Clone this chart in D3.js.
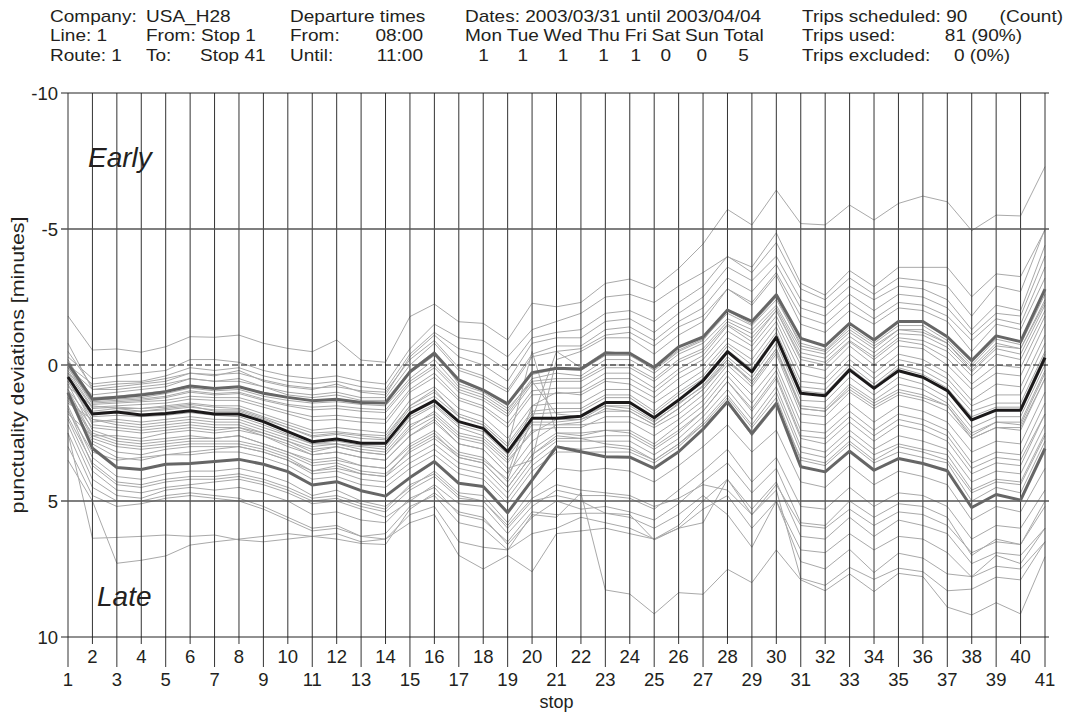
<!DOCTYPE html>
<html>
<head>
<meta charset="utf-8">
<script src="https://cdn.jsdelivr.net/npm/d3@7"></script>
<style>
  html, body { margin: 0; padding: 0; background: #fff; }
  svg { display: block; font-family: "Liberation Sans", Arial, Helvetica, sans-serif; }
</style>
</head>
<body>
<svg id="chart" width="1070" height="714"></svg>
<script>
// ---------- data ----------
const stops = d3.range(1, 42);
const yTicks = [-10, -5, 0, 5, 10];

const median = [0.44,1.8,1.73,1.84,1.78,1.68,1.8,1.8,2.08,2.45,2.82,2.72,2.88,2.88,1.78,1.31,2.08,2.33,3.19,1.96,1.96,1.88,1.38,1.38,1.94,1.29,0.58,-0.49,0.25,-1.02,1.04,1.13,0.18,0.86,0.21,0.45,0.94,2.02,1.66,1.66,-0.27];
const upperQ = [-0.05,1.26,1.19,1.10,0.98,0.77,0.86,0.8,1.04,1.19,1.31,1.26,1.38,1.4,0.25,-0.43,0.55,0.92,1.43,0.28,0.12,0.15,-0.43,-0.43,0.09,-0.67,-1.03,-2.02,-1.6,-2.58,-0.98,-0.7,-1.53,-0.92,-1.6,-1.6,-1.04,-0.16,-1.07,-0.86,-2.79];
const lowerQ = [1.02,3.06,3.77,3.84,3.65,3.62,3.55,3.47,3.65,3.92,4.41,4.29,4.62,4.82,4.14,3.55,4.35,4.47,5.43,4.23,3.0,3.19,3.37,3.39,3.8,3.19,2.36,1.35,2.52,1.41,3.74,3.93,3.17,3.87,3.44,3.62,3.89,5.24,4.76,4.97,3.07];

const trip01 = [-1.8,-0.55,-0.59,-0.47,-0.67,-1.04,-1.02,-1.1,-0.8,-0.61,-0.49,-0.92,-0.18,-0.1,-1.78,-2.24,-1.59,-1.53,-0.92,-2.27,-2.14,-2.3,-3.0,-3.16,-2.82,-3.55,-4.45,-5.72,-5.15,-6.43,-5.2,-5.15,-5.88,-5.33,-5.94,-6.21,-6.0,-4.94,-5.51,-5.48,-7.29];
const trip02 = [-0.3,0.5,0.4,0.3,0.2,-0.2,-0.2,-0.1,0.2,0.4,0.5,0.4,0.6,0.7,-0.6,-1.5,-1.0,-0.9,-0.3,-1.3,-1.6,-1.9,-2.5,-2.6,-2.3,-2.9,-3.4,-3.98,-3.6,-4.86,-3.0,-2.57,-3.47,-2.88,-3.59,-3.59,-3.59,-2.51,-3.35,-3.25,-4.96];
const trip03 = [0.1,0.9,0.8,0.7,0.6,0.3,0.4,0.2,0.6,0.8,0.9,0.7,1.0,1.1,-0.3,-1.1,-0.3,0.0,0.6,-0.8,-1.0,-1.0,-1.6,-1.7,-1.2,-1.9,-2.5,-3.6,-3.1,-4.0,-2.4,-2.1,-2.9,-2.4,-2.9,-2.8,-2.4,-1.3,-2.2,-2.0,-4.4];
const trip04 = [0.3,1.1,1.0,0.9,0.8,0.5,0.6,0.6,0.8,1.0,1.1,1.0,1.2,1.2,0.0,-0.8,0.2,0.5,1.0,-0.3,-0.5,-0.6,-1.1,-1.2,-0.7,-1.4,-1.8,-2.8,-2.3,-3.4,-1.8,-1.5,-2.3,-1.7,-2.3,-2.2,-1.8,-0.9,-1.7,-1.5,-3.6];
const trip05 = [-0.2,1.3,1.25,1.2,1.05,0.85,0.95,0.9,1.15,1.3,1.4,1.35,1.45,1.5,0.5,-0.2,0.8,1.1,1.7,0.5,0.3,0.4,-0.2,-0.2,0.3,-0.4,-0.8,-1.7,-1.3,-2.2,-0.6,-0.4,-1.2,-0.6,-1.3,-1.3,-0.8,0.1,-0.8,-0.6,-2.4];
const trip06 = [0.0,1.4,1.35,1.3,1.2,1.0,1.1,1.05,1.3,1.5,1.65,1.6,1.7,1.75,0.7,0.1,1.0,1.3,1.9,0.7,0.6,0.6,0.1,0.1,0.6,-0.1,-0.5,-1.5,-1.0,-2.0,-0.3,-0.1,-0.9,-0.3,-1.0,-0.9,-0.5,0.4,-0.4,-0.2,-2.0];
const trip07 = [0.2,1.55,1.5,1.45,1.4,1.25,1.3,1.3,1.55,1.8,2.05,2.0,2.1,2.15,1.0,0.45,1.3,1.6,2.3,1.1,1.05,1.0,0.5,0.5,1.0,0.3,-0.2,-1.25,-0.7,-1.8,0.0,0.2,-0.7,0.0,-0.7,-0.6,0.0,0.9,0.3,0.4,-1.5];
const trip08 = [0.5,1.7,1.6,1.6,1.5,1.4,1.5,1.5,1.8,2.1,2.4,2.3,2.4,2.5,1.3,0.8,1.6,1.9,2.7,1.5,1.4,1.4,0.9,0.9,1.4,0.8,0.2,-0.8,-0.2,-1.4,0.6,0.7,-0.2,0.5,-0.2,0.0,0.5,1.5,1.1,1.1,-0.8];
const trip09 = [0.6,1.9,1.85,1.9,1.85,1.75,1.85,1.9,2.2,2.55,2.9,2.8,2.95,3.0,1.9,1.45,2.2,2.45,3.3,2.1,2.1,2.0,1.5,1.5,2.05,1.45,0.75,-0.3,0.45,-0.8,1.3,1.35,0.45,1.1,0.45,0.7,1.2,2.3,1.9,1.9,0.0];
const trip10 = [0.9,2.1,2.0,2.1,2.0,1.9,2.0,2.0,2.3,2.6,2.9,2.9,3.1,3.2,2.2,1.8,2.6,2.8,3.6,2.4,2.3,2.3,1.9,1.9,2.3,1.8,1.1,0.0,0.8,-0.4,1.8,1.9,1.0,1.6,1.1,1.3,1.7,2.7,2.3,2.4,0.5];
const trip11 = [0.7,2.4,2.7,2.8,2.7,2.6,2.7,2.6,2.9,3.2,3.6,3.5,3.7,3.8,2.9,2.4,3.2,3.4,4.3,3.1,2.5,2.5,2.4,2.4,2.9,2.2,1.5,0.4,1.4,0.2,2.4,2.5,1.7,2.4,1.8,2.0,2.4,3.6,3.2,3.3,1.4];
const trip12 = [1.0,2.7,3.0,3.1,3.0,2.9,2.9,2.9,3.1,3.4,3.9,3.8,4.0,4.1,3.4,2.9,3.6,3.8,4.7,3.5,2.8,2.8,2.8,2.8,3.3,2.7,1.9,0.9,2.0,0.8,3.0,3.2,2.4,3.1,2.6,2.8,3.1,4.3,3.9,4.0,2.2];
const trip13 = [1.2,2.9,3.4,3.5,3.3,3.3,3.2,3.2,3.4,3.7,4.2,4.1,4.4,4.5,3.8,3.3,4.0,4.2,5.1,3.9,3.2,3.2,3.2,3.2,3.6,3.0,2.2,1.2,2.3,1.2,3.5,3.7,2.9,3.6,3.2,3.4,3.6,5.0,4.5,4.7,2.8];
const trip14 = [1.5,3.4,4.1,4.2,4.0,3.9,3.9,3.8,4.0,4.3,4.8,4.6,5.0,5.2,4.5,3.9,4.7,4.8,5.8,4.6,3.8,3.9,3.8,3.9,4.3,3.7,3.0,2.2,3.2,2.4,4.3,4.5,3.7,4.4,3.9,4.1,4.4,5.7,5.2,5.4,3.8];
const trip15 = [2.0,3.9,4.6,4.7,4.5,4.4,4.3,4.2,4.4,4.7,5.1,5.0,5.3,5.6,5.0,4.4,5.1,5.2,6.2,5.2,4.6,4.8,4.8,4.9,5.3,4.6,3.9,3.1,4.3,3.4,5.2,5.3,4.5,5.2,4.7,4.8,5.2,6.4,5.9,6.0,4.6];
const trip16 = [2.5,6.37,6.34,6.3,6.25,6.3,6.25,6.43,6.5,6.4,6.3,6.4,6.56,6.6,5.3,4.7,5.4,5.6,6.6,5.6,5.0,5.3,5.2,5.4,5.7,5.1,4.3,3.6,4.7,3.8,5.8,5.9,5.0,5.6,5.1,5.2,5.6,7.0,6.4,6.6,5.2];
const trip17 = [3.5,5.0,7.29,7.18,7.02,6.62,6.5,6.4,6.3,6.2,6.3,6.2,6.5,6.4,5.5,5.2,6.5,6.7,6.8,6.2,6.0,5.6,5.8,6.0,6.4,5.9,5.0,4.2,5.3,4.3,6.3,6.4,5.6,6.3,5.7,5.9,6.2,7.3,6.9,7.0,6.0];
const trip18 = [2.5,4.5,5.0,5.0,4.8,4.7,4.8,4.9,5.2,5.6,6.0,5.9,6.3,6.2,5.2,4.8,5.8,6.0,6.8,5.5,5.6,4.7,8.27,8.42,9.15,8.37,8.43,7.51,8.0,6.8,7.9,8.3,7.68,8.33,7.66,7.78,8.9,9.19,8.74,9.15,7.05];
const trip19 = [1.6,3.7,4.4,4.5,4.3,4.2,4.2,4.1,4.3,4.6,5.0,4.9,5.2,5.4,4.6,4.1,4.9,5.0,6.0,5.0,4.8,5.0,5.45,5.6,6.0,5.5,4.8,5.5,6.7,5.0,7.23,7.5,6.78,7.63,6.92,7.1,7.68,7.78,7.0,7.3,6.0];
const trip20 = [1.9,3.6,4.3,4.4,4.2,4.1,4.1,4.0,4.2,4.5,4.9,4.8,5.1,5.3,4.4,4.0,4.8,5.0,5.9,4.9,4.4,4.6,4.7,4.8,5.2,4.9,4.4,4.6,5.5,4.6,7.84,8.1,7.44,7.88,7.47,7.6,8.3,8.24,7.8,7.9,6.5];
const trip21 = [0.8,1.5,1.6,1.7,1.6,1.5,1.7,1.7,2.0,2.3,2.6,2.5,2.6,2.7,1.5,0.9,1.9,2.2,3.0,-0.5,2.5,2.6,2.4,2.5,3.0,2.4,1.7,0.6,1.6,0.4,2.6,2.7,1.9,2.6,2.0,2.2,2.6,3.8,3.4,3.5,1.8];
const trip22 = [0.4,2.2,2.3,2.4,2.3,2.2,2.3,2.3,2.5,2.8,3.2,3.0,3.2,3.3,2.4,1.9,2.7,2.9,3.8,3.5,-0.2,-0.5,-1.0,-1.0,-0.4,-1.1,-1.6,-2.8,-2.2,-3.3,-1.5,-1.2,-2.0,-1.5,-2.1,-2.0,-1.6,-0.5,-1.5,-1.3,-3.2];
const trip23 = [1.8,2.6,2.6,2.7,2.5,2.4,2.5,2.4,2.6,2.9,3.3,3.2,3.4,3.5,2.6,2.0,2.9,3.1,4.0,1.5,1.0,1.1,0.6,0.7,1.2,0.5,0.0,-1.0,-0.5,-1.6,0.3,0.5,-0.4,0.3,-0.4,-0.2,0.3,1.3,0.7,0.8,-1.1];
const trip24 = [-0.8,0.9,0.9,0.8,0.7,0.5,0.6,0.5,0.8,1.1,1.2,1.1,1.3,1.3,0.2,-0.5,0.7,1.0,1.6,0.6,1.8,1.9,1.5,1.6,2.1,1.4,0.8,-0.2,0.7,-0.5,1.6,1.7,0.9,1.5,1.0,1.2,1.5,2.7,2.3,2.3,0.5];
const trip25 = [1.3,2.5,2.8,2.9,2.8,2.7,2.7,2.6,2.9,3.2,3.5,3.4,3.7,3.8,3.0,2.5,3.4,3.6,4.5,3.3,2.6,2.7,2.9,3.0,3.5,2.9,2.2,1.4,2.6,1.5,3.4,3.6,2.8,3.5,3.0,3.2,3.5,4.7,4.3,4.4,2.6];
const trip26 = [2.2,4.2,4.8,4.9,4.6,4.5,4.6,4.5,4.7,5.0,5.5,5.4,5.7,5.8,4.9,4.5,5.5,5.7,6.5,5.4,5.5,5.45,5.45,5.5,6.43,6.0,5.8,4.2,5.5,4.4,5.9,6.0,5.3,5.9,5.4,5.5,5.9,6.9,6.5,6.6,5.0];
const trip27 = [3.0,4.8,5.2,5.1,4.9,4.8,4.9,5.0,5.3,5.7,6.1,6.0,6.3,6.4,5.8,5.5,7.0,7.5,7.0,7.6,6.2,6.1,6.0,6.2,6.4,6.0,5.3,4.8,6.0,5.0,6.8,6.9,6.2,6.8,6.3,6.4,6.9,7.8,7.4,7.5,6.5];
const trip28 = [0.0,0.7,0.6,0.6,0.4,0.1,0.2,0.1,0.4,0.6,0.7,0.6,0.8,0.9,-0.4,-1.2,-0.6,-0.4,0.2,-1.0,-1.2,-1.3,-1.9,-2.0,-1.6,-2.3,-2.9,-4.0,-3.4,-4.5,-2.8,-2.4,-3.2,-2.6,-3.2,-3.1,-2.9,-1.8,-2.9,-2.7,-5.0];
const trip29 = [0.3,1.6,1.55,1.6,1.55,1.45,1.55,1.6,1.9,2.2,2.5,2.45,2.55,2.6,1.5,1.0,1.8,2.1,2.9,1.7,1.6,1.6,1.1,1.1,1.7,1.0,0.4,-0.7,0.0,-1.2,0.8,0.9,0.0,0.7,0.0,0.2,0.7,1.7,1.4,1.4,-0.5];
const trip30 = [0.1,1.45,1.4,1.35,1.3,1.15,1.2,1.2,1.45,1.7,1.9,1.85,1.95,2.0,0.9,0.3,1.2,1.5,2.15,0.95,0.85,0.85,0.3,0.3,0.85,0.15,-0.35,-1.45,-0.85,-2.0,-0.2,0.0,-0.85,-0.2,-0.9,-0.75,-0.25,0.7,0.0,0.1,-1.8];
const trip31 = [1.1,2.3,2.4,2.5,2.4,2.3,2.4,2.3,2.6,3.0,3.3,3.2,3.4,3.5,2.6,2.1,2.9,3.1,4.0,2.8,2.2,2.2,2.1,2.1,2.6,2.0,1.3,0.2,1.1,0.0,2.1,2.2,1.4,2.1,1.5,1.7,2.1,3.2,2.8,2.9,1.0];
const trip32 = [0.1,1.35,1.3,1.25,1.15,0.95,1.05,1.0,1.25,1.45,1.55,1.5,1.6,1.65,0.6,0.0,0.9,1.2,1.8,0.6,0.5,0.5,0.0,0.0,0.5,-0.2,-0.6,-1.6,-1.15,-2.1,-0.45,-0.25,-1.05,-0.45,-1.15,-1.1,-0.65,0.25,-0.6,-0.4,-2.2];
const trip33 = [0.4,1.75,1.7,1.7,1.65,1.55,1.65,1.65,1.95,2.3,2.65,2.55,2.7,2.75,1.6,1.15,1.9,2.2,3.0,1.8,1.75,1.7,1.2,1.2,1.8,1.1,0.5,-0.55,0.15,-1.1,0.95,1.05,0.1,0.8,0.1,0.35,0.85,1.9,1.55,1.55,-0.4];
const trip34 = [1.4,2.0,2.2,2.3,2.2,2.1,2.2,2.2,2.5,2.8,3.1,3.0,3.2,3.3,2.3,1.7,2.5,2.7,3.5,2.5,2.0,2.0,1.7,1.7,2.2,1.6,0.9,-0.1,0.6,-0.6,1.6,1.7,0.8,1.4,0.9,1.1,1.5,2.6,2.1,2.2,0.3];
const trip35 = [-0.5,0.8,0.7,0.65,0.5,0.3,0.35,0.3,0.55,0.75,0.85,0.8,0.95,1.0,-0.2,-0.9,0.1,0.4,0.9,-0.4,-0.7,-0.7,-1.3,-1.4,-0.9,-1.6,-2.1,-3.2,-2.7,-3.7,-2.1,-1.8,-2.6,-2.0,-2.6,-2.5,-2.1,-1.1,-1.9,-1.8,-4.0];
const trip36 = [0.9,2.6,2.9,3.0,2.9,2.8,2.8,2.8,3.0,3.3,3.7,3.6,3.9,4.0,3.2,2.7,3.4,3.6,4.5,3.3,2.7,2.7,2.6,2.6,3.1,2.5,1.7,0.6,1.7,0.5,2.7,2.9,2.1,2.8,2.2,2.4,2.8,4.0,3.6,3.7,1.8];
const trip37 = [0.6,2.0,2.1,2.2,2.1,2.0,2.1,2.1,2.4,2.7,3.0,2.9,3.0,3.1,2.0,1.5,2.3,2.6,3.4,2.2,2.2,2.1,1.6,1.7,2.2,1.6,0.9,-0.2,0.6,-0.6,1.5,1.6,0.7,1.3,0.7,0.9,1.4,2.5,2.1,2.1,0.2];
const trip38 = [-0.1,1.2,1.15,1.05,0.95,0.75,0.85,0.8,1.0,1.2,1.3,1.25,1.35,1.4,0.3,-0.35,0.6,0.95,1.5,0.35,0.15,0.2,-0.35,-0.35,0.15,-0.55,-0.95,-1.9,-1.45,-2.4,-0.8,-0.55,-1.4,-0.8,-1.45,-1.45,-0.9,0.0,-0.95,-0.75,-2.6];
const trip39 = [1.7,3.2,3.5,3.4,3.3,3.2,3.1,3.0,3.2,3.5,3.9,3.7,4.0,4.1,3.1,2.6,3.3,3.5,4.2,2.0,-0.5,0.1,-0.5,-0.4,0.2,-0.5,-0.9,-2.0,-1.5,-2.5,-0.7,-0.5,-1.3,-0.7,-1.3,-1.2,-0.8,0.2,-0.7,-0.6,-2.3];
const trip40 = [1.2,2.8,3.2,3.3,3.1,3.0,3.0,3.0,3.2,3.5,4.0,3.9,4.2,4.3,3.6,3.1,3.8,4.0,4.9,3.7,3.0,3.1,3.0,3.1,3.5,2.9,2.1,1.1,2.2,1.0,3.2,3.4,2.6,3.3,2.9,3.1,3.3,4.6,4.2,4.3,2.5];

const trips = [trip01,trip02,trip03,trip04,trip05,trip06,trip07,trip08,trip09,trip10,
  trip11,trip12,trip13,trip14,trip15,trip16,trip17,trip18,trip19,trip20,
  trip21,trip22,trip23,trip24,trip25,trip26,trip27,trip28,trip29,trip30,
  trip31,trip32,trip33,trip34,trip35,trip36,trip37,trip38,trip39,trip40];

const dayNames = ["Mon","Tue","Wed","Thu","Fri","Sat","Sun","Total"];
const dayCounts = ["1","1","1","1","1","0","0","5"];

// ---------- drawing ----------
const svg = d3.select("#chart");
const x = d3.scaleLinear().domain([1, 41]).range([68, 1045]);
const y = d3.scaleLinear().domain([-10, 10]).range([93, 637]);
const FS = 17, SX = 1.12;

function htext(tx, ty, str, anchor) {
  return svg.append("text")
    .attr("transform", `translate(${tx},${ty}) scale(${SX},1)`)
    .attr("font-size", FS).attr("fill", "#231f20")
    .attr("text-anchor", anchor || "start")
    .text(str);
}

// header
const r1 = 22, r2 = 41, r3 = 61;
htext(50, r1, "Company:"); htext(146, r1, "USA_H28");
htext(50, r2, "Line:"); htext(107, r2, "1", "end");
htext(146, r2, "From: Stop  1");
htext(50, r3, "Route: 1"); htext(146, r3, "To:"); htext(200, r3, "Stop 41");
htext(290, r1, "Departure times");
htext(290, r2, "From:"); htext(423, r2, "08:00", "end");
htext(290, r3, "Until:"); htext(423, r3, "11:00", "end");
htext(465, r1, "Dates: 2003/03/31 until 2003/04/04");
// day names laid out word by word
let cx = 465;
const spaceW = 0.25 * FS * SX;
dayNames.forEach((d, i) => {
  const t = htext(cx, r2, d);
  const w = t.node().getComputedTextLength() * SX;
  htext(cx + w / 2, r3, dayCounts[i], "middle");
  cx += w + spaceW;
});
htext(802, r1, "Trips scheduled: 90"); htext(1063, r1, "(Count)", "end");
htext(802, r2, "Trips used:"); htext(1022, r2, "81 (90%)", "end");
htext(802, r3, "Trips excluded:"); htext(1010, r3, "0 (0%)", "end");

const plot = svg.append("g");

// gray trip lines
const line = d3.line().x((d, i) => x(stops[i])).y(d => y(d));
plot.append("g").selectAll("path").data(trips).join("path")
  .attr("d", line).attr("fill", "none")
  .attr("stroke", "#a9a9a9").attr("stroke-width", 1);

// vertical grid lines with tick extension
plot.append("g").selectAll("line").data(stops).join("line")
  .attr("x1", d => x(d)).attr("x2", d => x(d))
  .attr("y1", y(-10)).attr("y2", d => y(10) + (d % 2 === 1 ? 30 : 7))
  .attr("stroke", "#333").attr("stroke-width", 1);

// horizontal lines
plot.append("g").selectAll("line").data(yTicks).join("line")
  .attr("x1", x(1) - 7).attr("x2", x(41) + 4)
  .attr("y1", d => y(d)).attr("y2", d => y(d))
  .attr("stroke", d => (d === 0 ? "#111" : (Math.abs(d) === 10 ? "#222" : "#555")))
  .attr("stroke-width", d => (Math.abs(d) === 5 ? 1.5 : 1))
  .attr("stroke-dasharray", d => (d === 0 ? "6,3" : null));

// thick statistic lines
[[upperQ, "#666666"], [lowerQ, "#666666"], [median, "#1c1a1b"]].forEach(([arr, c]) => {
  plot.append("path").datum(arr).attr("d", line).attr("fill", "none")
    .attr("stroke", c).attr("stroke-width", 3).attr("stroke-linejoin", "round");
});

// y tick labels
svg.append("g").selectAll("text").data(yTicks).join("text")
  .attr("x", 58).attr("y", d => y(d)).attr("dy", "0.36em")
  .attr("text-anchor", "end").attr("font-size", 18.5).attr("fill", "#231f20")
  .text(d => d);

// x tick labels
svg.append("g").selectAll("text").data(stops).join("text")
  .attr("x", d => x(d)).attr("y", d => (d % 2 === 1 ? 686 : 663))
  .attr("text-anchor", "middle").attr("font-size", 18.5).attr("fill", "#231f20")
  .text(d => d);

// axis titles
svg.append("text").attr("x", x(21)).attr("y", 708).attr("text-anchor", "middle")
  .attr("font-size", 18).attr("fill", "#231f20").text("stop");
svg.append("text")
  .attr("transform", `translate(24,${y(0)}) rotate(-90)`)
  .attr("text-anchor", "middle").attr("font-size", 18.5).attr("fill", "#231f20")
  .attr("textLength", 297).attr("lengthAdjust", "spacingAndGlyphs")
  .text("punctuality deviations [minutes]");

// Early / Late annotations
svg.append("text").attr("x", 88).attr("y", 167).attr("font-size", 28)
  .attr("font-style", "italic").attr("fill", "#231f20").text("Early");
svg.append("text").attr("x", 97).attr("y", 606).attr("font-size", 28)
  .attr("font-style", "italic").attr("fill", "#231f20").text("Late");
</script>
</body>
</html>
